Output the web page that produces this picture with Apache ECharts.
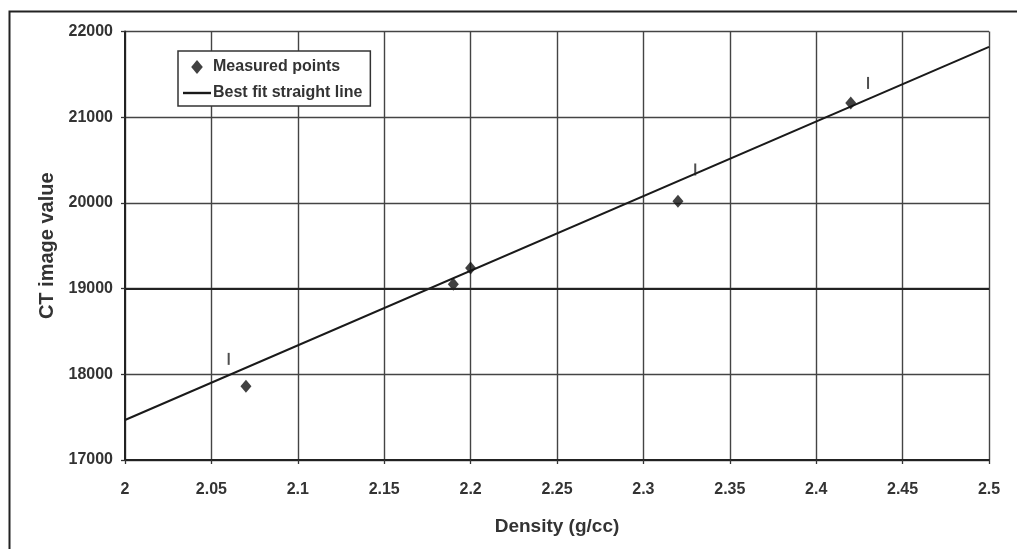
<!DOCTYPE html>
<html>
<head>
<meta charset="utf-8">
<script src="https://cdn.jsdelivr.net/npm/echarts@6/dist/echarts.min.js"></script>
<style>
html,body{margin:0;padding:0;background:#fff;}
#c{width:1017px;height:549px;}
</style>
</head>
<body>
<div id="c"></div>
<script>
// Data
var measuredPoints = [[2.07, 17860], [2.19, 19050], [2.20, 19240], [2.32, 20020], [2.42, 21165]];
var fitLine = [[2.0, 17467], [2.5, 21821]];
var tickMarks = [[2.06, 18180], [2.33, 20390], [2.43, 21400]];
var xTicks = { min: 2, max: 2.5, step: 0.05 };
var yTicks = { min: 17000, max: 22000, step: 1000 };
var highlightLineY = [19000];

var FONT = '"Liberation Sans", Arial, sans-serif';
var TXT = '#333';

var chart = echarts.init(document.getElementById('c'), null, { renderer: 'canvas' });
chart.setOption({
  backgroundColor: '#fff',
  animation: false,
  graphic: [{
    type: 'rect', left: 7, top: 9, z: -1,
    shape: { width: 1030, height: 560 },
    style: { fill: 'none', stroke: '#222', lineWidth: 2 }
  }],
  grid: { left: 125, right: 28, top: 31.5, bottom: 89 },
  legend: {
    left: 178, top: 51,
    orient: 'vertical',
    backgroundColor: '#fff',
    borderColor: '#333', borderWidth: 1.5, borderRadius: 0,
    padding: [8, 8, 5, 5],
    itemWidth: 28, itemHeight: 14, itemGap: 10,
    textStyle: { fontFamily: FONT, fontSize: 16, fontWeight: 'bold', color: TXT, padding: [0, 0, 0, -3] },
    data: [
      { name: 'Measured points', icon: 'path://M5 0L10 6L5 12L0 6Z' },
      { name: 'Best fit straight line', icon: 'path://M0 0H28V2.4H0Z' }
    ]
  },
  xAxis: {
    type: 'value',
    min: xTicks.min, max: xTicks.max, interval: xTicks.step,
    name: 'Density (g/cc)', nameLocation: 'middle', nameGap: 57,
    nameTextStyle: { fontFamily: FONT, fontSize: 19, fontWeight: 'bold', color: TXT },
    axisLine: { show: true, onZero: false, lineStyle: { color: '#222', width: 2 } },
    axisTick: { show: true, length: 4, inside: false, lineStyle: { color: '#333', width: 1.3 } },
    axisLabel: { margin: 22, fontFamily: FONT, fontSize: 16, fontWeight: 'bold', color: TXT,
      formatter: function (v) { return String(+v.toFixed(2)); } },
    splitLine: { show: true, lineStyle: { color: '#444', width: 1.4 } }
  },
  yAxis: {
    type: 'value',
    min: yTicks.min, max: yTicks.max, interval: yTicks.step,
    name: 'CT image value', nameLocation: 'middle', nameGap: 48,
    nameTextStyle: { fontFamily: FONT, fontSize: 20, fontWeight: 'bold', color: TXT },
    axisLine: { show: true, onZero: false, lineStyle: { color: '#222', width: 2 } },
    axisTick: { show: true, length: 4, inside: false, lineStyle: { color: '#333', width: 1.3 } },
    axisLabel: { margin: 12, fontFamily: FONT, fontSize: 16, fontWeight: 'bold', color: TXT,
      formatter: function (v) { return String(v); } },
    splitLine: { show: true, lineStyle: { color: '#444', width: 1.4 } }
  },
  series: [
    {
      name: 'Best fit straight line',
      type: 'line',
      data: fitLine,
      symbol: 'none',
      lineStyle: { color: '#1a1a1a', width: 2 },
      itemStyle: { color: '#1a1a1a' },
      z: 3,
      markLine: {
        silent: true, symbol: 'none', label: { show: false },
        lineStyle: { color: '#222', width: 2.2, type: 'solid' },
        data: highlightLineY.map(function (y) { return { yAxis: y }; })
      }
    },
    {
      name: 'Measured points',
      type: 'scatter',
      data: measuredPoints,
      symbol: 'diamond',
      symbolSize: [11, 13],
      itemStyle: { color: '#111' },
      z: 4
    },
    {
      name: 'ticks',
      type: 'scatter',
      data: tickMarks,
      symbol: 'rect',
      symbolSize: [2, 12],
      itemStyle: { color: '#222' },
      z: 4
    }
  ]
});
</script>
</body>
</html>
